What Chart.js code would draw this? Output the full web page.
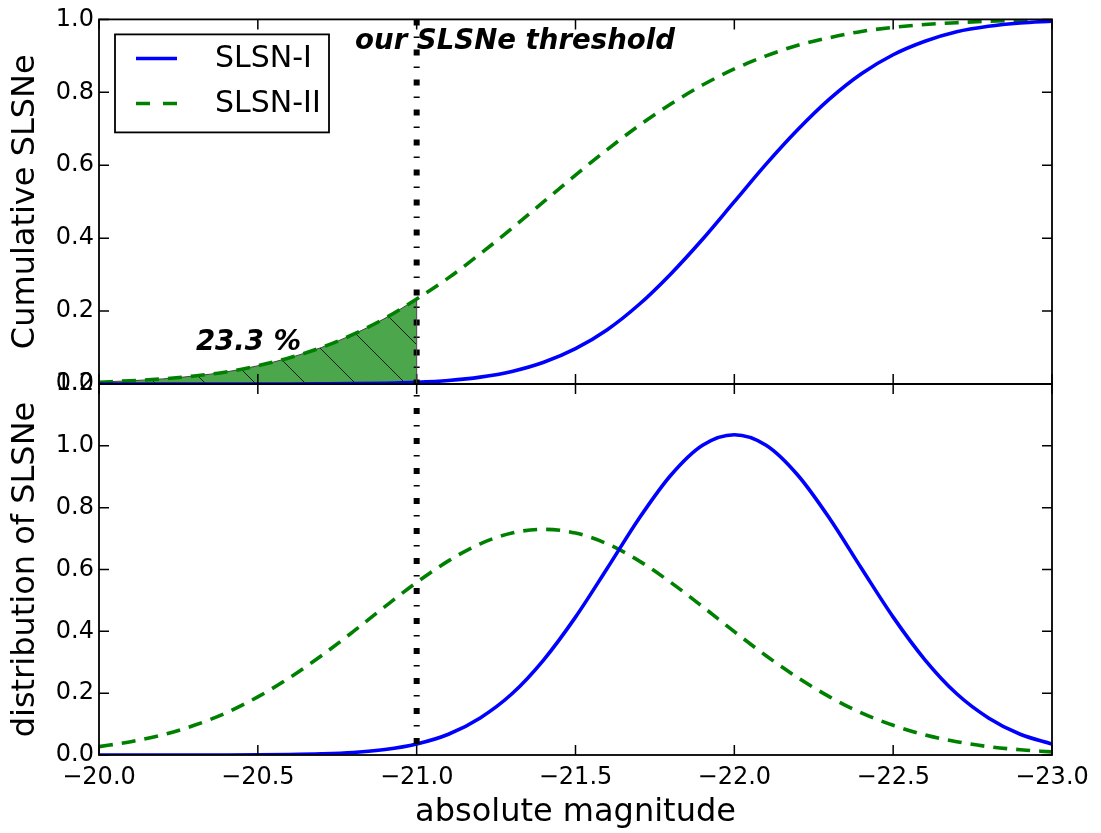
<!DOCTYPE html>
<html>
<head>
<meta charset="utf-8">
<title>SLSNe magnitude distributions</title>
<script src="https://cdn.jsdelivr.net/npm/chart.js@4.4.1/dist/chart.umd.min.js"></script>
<style>
  html, body { margin: 0; padding: 0; background: #ffffff; }
  #wrap { position: relative; width: 1101px; height: 833px; }
  #wrap canvas { position: absolute; left: 0; top: 0; }
</style>
</head>
<body>
<div id="wrap">
  <canvas id="cumChart" width="1101" height="833"></canvas>
  <canvas id="distChart" width="1101" height="833"></canvas>
</div>
<script>
// Absolute magnitude grid (bright end on the right)
const magnitudes = [-20.0, -20.1, -20.2, -20.3, -20.4, -20.5, -20.6, -20.7, -20.8, -20.9,
                    -21.0, -21.1, -21.2, -21.3, -21.4, -21.5, -21.6, -21.7, -21.8, -21.9,
                    -22.0, -22.1, -22.2, -22.3, -22.4, -22.5, -22.6, -22.7, -22.8, -22.9, -23.0];

// Cumulative fraction of SLSNe brighter than each magnitude bin
const cumSLSN1 = [0, 0, 0, 0, 0, 0.0001, 0.0001, 0.0004, 0.0009, 0.0021,
                  0.0047, 0.0097, 0.0189, 0.0345, 0.0596, 0.097, 0.149, 0.218, 0.302, 0.397,
                  0.500, 0.603, 0.698, 0.782, 0.851, 0.903, 0.940, 0.966, 0.981, 0.990, 0.995];
const cumSLSN2 = [0.005, 0.009, 0.014, 0.022, 0.033, 0.050, 0.072, 0.100, 0.136, 0.180,
                  0.233, 0.291, 0.357, 0.427, 0.500, 0.573, 0.643, 0.709, 0.768, 0.820,
                  0.864, 0.900, 0.929, 0.950, 0.967, 0.978, 0.986, 0.991, 0.995, 0.997, 0.998];

// Probability density of the peak magnitudes
const distSLSN1 = [0, 0, 0, 0.0001, 0.0002, 0.0005, 0.0014, 0.0035, 0.008, 0.0175,
                   0.0355, 0.067, 0.120, 0.198, 0.308, 0.446, 0.604, 0.765, 0.905, 1.002,
                   1.036, 1.002, 0.905, 0.765, 0.604, 0.446, 0.308, 0.198, 0.120, 0.067, 0.0355];
const distSLSN2 = [0.027, 0.043, 0.065, 0.096, 0.136, 0.188, 0.250, 0.321, 0.399, 0.480,
                   0.558, 0.628, 0.683, 0.718, 0.730, 0.718, 0.683, 0.628, 0.558, 0.480,
                   0.399, 0.321, 0.250, 0.188, 0.136, 0.096, 0.065, 0.043, 0.027, 0.017, 0.010];

// Tick positions
const xTickValues = [-20.0, -20.5, -21.0, -21.5, -22.0, -22.5, -23.0];
const yTicksCum = [0.0, 0.2, 0.4, 0.6, 0.8, 1.0];
const yTicksDist = [0.0, 0.2, 0.4, 0.6, 0.8, 1.0, 1.2];

// Survey threshold and the SLSN-II fraction fainter than it
const threshold = -21.0;
const thresholdLabel = 'our SLSNe threshold';
const fractionLabel = '23.3 %';

const seriesNames = ['SLSN-I', 'SLSN-II'];
const BLUE = '#0000ff';
const GREEN = '#008000';
const FONT = '"DejaVu Sans", "Liberation Sans", sans-serif';
const DASH = [14, 9];

Chart.defaults.font.family = FONT;
Chart.defaults.color = '#000000';
Chart.defaults.animation = false;

const pts = (ys, n) => magnitudes.slice(0, n || magnitudes.length).map((m, i) => ({ x: m, y: ys[i] }));
const fmtX = v => (v < 0 ? '\u2212' : '') + Math.abs(v).toFixed(1);

function hatch(ctx) {
  const size = 50;
  const c = document.createElement('canvas');
  c.width = size; c.height = size;
  const g = c.getContext('2d');
  g.fillStyle = 'rgba(0,128,0,0.7)';
  g.fillRect(0, 0, size, size);
  g.strokeStyle = 'rgba(0,0,0,0.85)';
  g.lineWidth = 1;
  g.beginPath();
  for (const o of [-size, 0, size]) {
    g.moveTo(o - 2, -2);
    g.lineTo(o + size + 2, size + 2);
  }
  g.stroke();
  const p = ctx.createPattern(c, 'repeat');
  p.setTransform(new DOMMatrix([1, 0, 0, 1, -28, 0]));
  return p;
}

function xScale(showLabels) {
  return {
    type: 'linear', min: -23, max: -20, reverse: true,
    afterBuildTicks: s => { s.ticks = xTickValues.map(v => ({ value: v })); },
    afterFit: s => { s.height = showLabels ? 78 : 0; },
    grid: { display: false, drawTicks: false },
    border: { display: false },
    ticks: { display: showLabels, padding: 8, font: { size: 24 }, callback: fmtX, maxRotation: 0, autoSkip: false },
    title: { display: showLabels, text: 'absolute magnitude', font: { size: 32 }, padding: { top: 0, bottom: 1 } }
  };
}

function yScale(max, ticks, title) {
  return {
    type: 'linear', min: 0, max: max,
    afterBuildTicks: s => { s.ticks = ticks.map(v => ({ value: v })); },
    afterFit: s => { s.width = 99; },
    grid: { display: false, drawTicks: false },
    border: { display: false },
    ticks: { padding: 5, font: { size: 24 }, callback: v => v.toFixed(1), autoSkip: false },
    title: { display: true, text: title, font: { size: 32 }, padding: { top: 6, bottom: 0 } }
  };
}

// Frame, inward ticks on all four sides, and the threshold line
function framePlugin(yTicks, dashOffset) {
  return {
    id: 'frame',
    afterDatasetsDraw(chart) {
      const { ctx, chartArea: a, scales: { x } } = chart;
      const px = x.getPixelForValue(threshold);
      ctx.save();
      ctx.strokeStyle = '#000';
      ctx.lineWidth = 6;
      ctx.lineCap = 'butt';
      ctx.setLineDash([6, 11, 1.5, 11.5]);
      ctx.lineDashOffset = dashOffset;
      ctx.beginPath();
      ctx.moveTo(px, a.top);
      ctx.lineTo(px, a.bottom);
      ctx.stroke();
      ctx.restore();
    },
    afterDraw(chart) {
      const { ctx, chartArea: a, scales: { x, y } } = chart;
      ctx.save();
      ctx.strokeStyle = '#000';
      ctx.lineWidth = 1.5;
      ctx.beginPath();
      for (const v of xTickValues) {
        const p = x.getPixelForValue(v);
        ctx.moveTo(p, a.bottom); ctx.lineTo(p, a.bottom - 10);
        ctx.moveTo(p, a.top); ctx.lineTo(p, a.top + 10);
      }
      for (const v of yTicks) {
        const p = y.getPixelForValue(v);
        ctx.moveTo(a.left, p); ctx.lineTo(a.left + 10, p);
        ctx.moveTo(a.right, p); ctx.lineTo(a.right - 10, p);
      }
      ctx.stroke();
      ctx.lineWidth = 1.8;
      ctx.strokeRect(a.left, a.top, a.right - a.left, a.bottom - a.top);
      ctx.restore();
    }
  };
}

// Legend box and text annotations of the cumulative panel
const annotationPlugin = {
  id: 'annotations',
  afterDraw(chart) {
    const { ctx, chartArea: a, scales: { x, y } } = chart;
    ctx.save();
    // edge of the shaded region at the threshold
    ctx.strokeStyle = '#444';
    ctx.lineWidth = 1;
    const px = x.getPixelForValue(threshold);
    ctx.beginPath();
    ctx.moveTo(px, y.getPixelForValue(0));
    ctx.lineTo(px, y.getPixelForValue(cumSLSN2[magnitudes.indexOf(threshold)]));
    ctx.stroke();

    ctx.fillStyle = '#000';
    ctx.textBaseline = 'alphabetic';
    ctx.textAlign = 'left';
    ctx.font = 'italic bold 27.6px ' + FONT;
    ctx.fillText(thresholdLabel, x.getPixelForValue(-20.806), y.getPixelForValue(0.918));
    ctx.fillText(fractionLabel, x.getPixelForValue(-20.305), y.getPixelForValue(0.093));

    // legend
    const bx = a.left + 16, by = a.top + 15, bw = 214, bh = 98;
    ctx.fillStyle = '#fff';
    ctx.fillRect(bx, by, bw, bh);
    ctx.strokeStyle = '#000';
    ctx.lineWidth = 1.8;
    ctx.strokeRect(bx, by, bw, bh);
    const rows = [{ c: BLUE, d: [] }, { c: GREEN, d: [14, 13] }];
    rows.forEach((r, i) => {
      const ly = by + 24 + i * 45;
      ctx.strokeStyle = r.c;
      ctx.lineWidth = 3.5;
      ctx.setLineDash(r.d);
      ctx.beginPath();
      ctx.moveTo(bx + 21, ly);
      ctx.lineTo(bx + 62, ly);
      ctx.stroke();
      ctx.setLineDash([]);
      ctx.fillStyle = '#000';
      ctx.font = '30px ' + FONT;
      ctx.textBaseline = 'middle';
      ctx.fillText(seriesNames[i], bx + 100, ly + 1);
    });
    ctx.restore();
  }
};

const lineStyle = { pointRadius: 0, fill: false, cubicInterpolationMode: 'monotone' };

new Chart(document.getElementById('cumChart'), {
  type: 'line',
  data: {
    datasets: [
      Object.assign({ label: seriesNames[0], data: pts(cumSLSN1), borderColor: BLUE, borderWidth: 3.6 }, lineStyle),
      Object.assign({ label: seriesNames[1], data: pts(cumSLSN2), borderColor: GREEN, borderWidth: 3.6, borderDash: DASH }, lineStyle),
      {
        label: 'fainter than threshold',
        data: pts(cumSLSN2, magnitudes.indexOf(threshold) + 1),
        borderColor: '#444', borderWidth: 1, pointRadius: 0,
        cubicInterpolationMode: 'monotone',
        fill: 'origin',
        backgroundColor: ctx => hatch(ctx.chart.ctx)
      }
    ]
  },
  options: {
    responsive: false,
    events: [],
    layout: { padding: { top: 18, right: 49, bottom: 833 - 384, left: 0 } },
    plugins: { legend: { display: false }, tooltip: { enabled: false } },
    scales: { x: xScale(false), y: yScale(1.0, yTicksCum, 'Cumulative SLSNe') }
  },
  plugins: [framePlugin(yTicksCum, 0), annotationPlugin]
});

new Chart(document.getElementById('distChart'), {
  type: 'line',
  data: {
    datasets: [
      Object.assign({ label: seriesNames[0], data: pts(distSLSN1), borderColor: BLUE, borderWidth: 3.6 }, lineStyle),
      Object.assign({ label: seriesNames[1], data: pts(distSLSN2), borderColor: GREEN, borderWidth: 3.6, borderDash: DASH }, lineStyle)
    ]
  },
  options: {
    responsive: false,
    events: [],
    layout: { padding: { top: 384, right: 49, bottom: 0, left: 0 } },
    plugins: { legend: { display: false }, tooltip: { enabled: false } },
    scales: { x: xScale(true), y: yScale(1.2, yTicksDist, 'distribution of SLSNe') }
  },
  plugins: [framePlugin(yTicksDist, 366)]
});
</script>
</body>
</html>
